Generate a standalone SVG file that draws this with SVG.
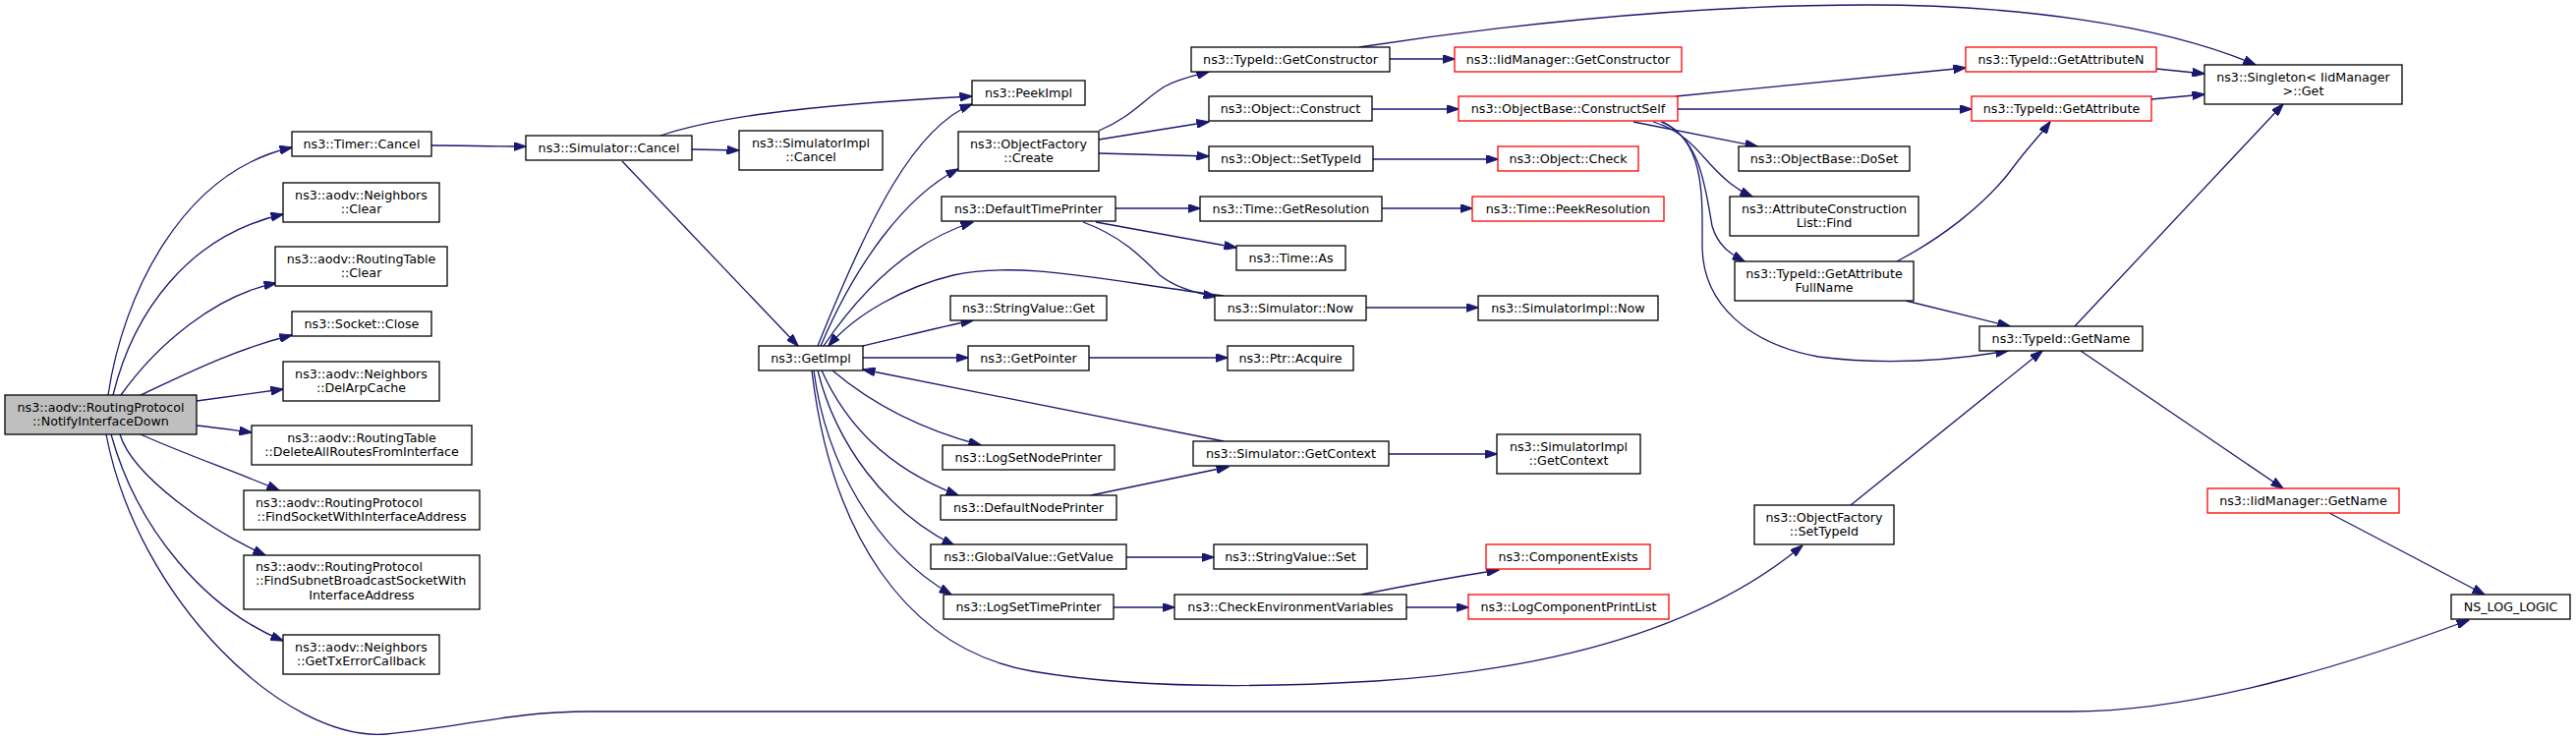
<svg xmlns="http://www.w3.org/2000/svg" width="2621" height="753" viewBox="0 0 2621 753">
<style>
.n rect{fill:#fff;stroke:#000;stroke-width:1.3}
.n.red rect{stroke:#ff0000}
.n.root rect{fill:#bfbfbf}
text{font-family:"DejaVu Sans","Liberation Sans",sans-serif;font-size:12.7px;fill:#000;text-anchor:middle}
text.l{text-anchor:start}
.e path{fill:none;stroke:#191970;stroke-width:1.3;marker-end:url(#arr)}
</style>
<defs>
<marker id="arr" viewBox="0 0 13 9" refX="12.5" refY="4.5" markerWidth="13" markerHeight="9" markerUnits="userSpaceOnUse" orient="auto">
<path d="M0,0 L13,4.5 L0,9 z" fill="#191970" stroke="#191970" stroke-width="1"/>
</marker>
</defs>
<rect width="2621" height="753" fill="#fff"/>
<g id="edges" class="e">
<path d="M110,402 C125,300 185,175 297,150"/>
<path d="M115,402 C135,320 190,240 288,218"/>
<path d="M123,402 C160,350 220,300 281,288"/>
<path d="M143,402 C190,380 240,355 297,341"/>
<path d="M200,408 C230,404 260,400 288,396"/>
<path d="M200,433 C220,435 240,438 256,440"/>
<path d="M143,442 C190,463 240,480 284,499"/>
<path d="M122,442 C135,485 215,540 270,565"/>
<path d="M113,442 C140,540 210,620 288,652"/>
<path d="M108,442 C140,610 290,755 393,747 C470,740 520,724 600,724 L2107,724 C2250,724 2420,665 2512,631"/>
<path d="M439,148 C470,148 500,149 535,149"/>
<path d="M704,152 L752,153"/>
<path d="M672,138 C720,122 800,108 989,98"/>
<path d="M633,164 L812,352"/>
<path d="M832,352 C885,220 930,130 989,106"/>
<path d="M835,352 C870,270 920,200 975,172"/>
<path d="M838,352 C880,290 930,245 990,226"/>
<path d="M1245,301 C1120,285 1040,265 970,280 C920,292 870,320 843,352"/>
<path d="M878,352 C910,345 950,334 990,326"/>
<path d="M878,364 L985,364"/>
<path d="M1245,449 L878,376"/>
<path d="M847,377 C880,405 930,435 998,453"/>
<path d="M836,377 C860,430 900,475 975,504"/>
<path d="M832,377 C850,450 900,520 971,555"/>
<path d="M828,377 C840,470 890,560 968,605"/>
<path d="M826,377 C845,540 920,660 1050,683 C1150,700 1280,700 1400,693 C1550,683 1720,650 1834,555"/>
<path d="M1118,133 C1150,120 1165,100 1185,88 C1200,80 1215,77 1230,73"/>
<path d="M1118,142 L1230,124"/>
<path d="M1118,156 L1230,159"/>
<path d="M1135,212 L1221,212"/>
<path d="M1115,226 L1258,252"/>
<path d="M1102,226 C1140,240 1160,260 1180,280 C1195,292 1215,298 1237,302"/>
<path d="M1406,212 L1498,212"/>
<path d="M1390,313 L1504,313"/>
<path d="M1108,364 L1249,364"/>
<path d="M1110,504 L1250,475"/>
<path d="M1413,462 L1523,462"/>
<path d="M1146,567 L1235,567"/>
<path d="M1133,618 L1195,618"/>
<path d="M1385,605 C1430,596 1480,587 1525,580"/>
<path d="M1431,618 L1494,618"/>
<path d="M1414,60 L1480,60"/>
<path d="M1383,48 C1500,30 1700,5 1900,5 C2050,5 2200,25 2295,66"/>
<path d="M1396,111 L1484,111"/>
<path d="M1397,162 L1524,162"/>
<path d="M1705,98 L2000,69"/>
<path d="M1707,111 L2006,111"/>
<path d="M1662,124 L1788,149"/>
<path d="M1682,124 C1710,132 1725,150 1740,167 C1755,183 1765,192 1783,200"/>
<path d="M1690,124 C1730,140 1735,190 1742,230 C1748,250 1760,258 1775,266"/>
<path d="M1692,124 C1735,145 1732,200 1732,250 C1732,310 1780,350 1850,363 C1920,372 1990,366 2043,357"/>
<path d="M1939,306 L2045,332"/>
<path d="M1930,266 C1970,245 2020,210 2050,168 C2065,148 2078,135 2086,124"/>
<path d="M2194,70 L2243,75"/>
<path d="M2189,101 L2243,96"/>
<path d="M2111,332 L2323,106"/>
<path d="M2117,357 L2323,497"/>
<path d="M2370,522 L2528,605"/>
<path d="M1883,514 L2078,357"/>
</g>
<g id="n0" class="n root"><rect x="5" y="402" width="195" height="40"/><text x="102.5" y="418.5">ns3::aodv::RoutingProtocol</text><text x="102.5" y="432.8">::NotifyInterfaceDown</text></g>
<g id="n1" class="n"><rect x="297" y="134" width="142" height="25"/><text x="368" y="150.5">ns3::Timer::Cancel</text></g>
<g id="n2" class="n"><rect x="288" y="186" width="159" height="40"/><text x="367.5" y="202.5">ns3::aodv::Neighbors</text><text x="367.5" y="216.8">::Clear</text></g>
<g id="n3" class="n"><rect x="280" y="251" width="175" height="40"/><text x="367.5" y="267.5">ns3::aodv::RoutingTable</text><text x="367.5" y="281.8">::Clear</text></g>
<g id="n4" class="n"><rect x="297" y="317" width="142" height="25"/><text x="368" y="333.5">ns3::Socket::Close</text></g>
<g id="n5" class="n"><rect x="288" y="368" width="159" height="40"/><text x="367.5" y="384.5">ns3::aodv::Neighbors</text><text x="367.5" y="398.8">::DelArpCache</text></g>
<g id="n6" class="n"><rect x="256" y="433" width="224" height="40"/><text x="368" y="449.5">ns3::aodv::RoutingTable</text><text x="368" y="463.8">::DeleteAllRoutesFromInterface</text></g>
<g id="n7" class="n"><rect x="248" y="499" width="240" height="40"/><text class="l" x="260" y="515.5">ns3::aodv::RoutingProtocol</text><text x="368" y="529.8">::FindSocketWithInterfaceAddress</text></g>
<g id="n8" class="n"><rect x="248" y="565" width="240" height="55"/><text class="l" x="260" y="581">ns3::aodv::RoutingProtocol</text><text class="l" x="260" y="595.3">::FindSubnetBroadcastSocketWith</text><text x="368" y="609.6">InterfaceAddress</text></g>
<g id="n9" class="n"><rect x="288" y="646" width="159" height="40"/><text x="367.5" y="662.5">ns3::aodv::Neighbors</text><text x="367.5" y="676.8">::GetTxErrorCallback</text></g>
<g id="n10" class="n"><rect x="2494" y="605" width="121" height="25"/><text x="2554.5" y="621.5">NS_LOG_LOGIC</text></g>
<g id="n11" class="n"><rect x="535" y="138" width="169" height="25"/><text x="619.5" y="154.5">ns3::Simulator::Cancel</text></g>
<g id="n12" class="n"><rect x="752" y="133" width="146" height="40"/><text x="825" y="149.5">ns3::SimulatorImpl</text><text x="825" y="163.8">::Cancel</text></g>
<g id="n13" class="n"><rect x="772" y="352" width="106" height="25"/><text x="825" y="368.5">ns3::GetImpl</text></g>
<g id="n14" class="n"><rect x="989" y="82" width="115" height="25"/><text x="1046.5" y="98.5">ns3::PeekImpl</text></g>
<g id="n15" class="n"><rect x="975" y="134" width="143" height="40"/><text x="1046.5" y="150.5">ns3::ObjectFactory</text><text x="1046.5" y="164.8">::Create</text></g>
<g id="n16" class="n"><rect x="958" y="200" width="177" height="25"/><text x="1046.5" y="216.5">ns3::DefaultTimePrinter</text></g>
<g id="n17" class="n"><rect x="967" y="301" width="159" height="25"/><text x="1046.5" y="317.5">ns3::StringValue::Get</text></g>
<g id="n18" class="n"><rect x="985" y="352" width="123" height="25"/><text x="1046.5" y="368.5">ns3::GetPointer</text></g>
<g id="n19" class="n"><rect x="959" y="453" width="175" height="25"/><text x="1046.5" y="469.5">ns3::LogSetNodePrinter</text></g>
<g id="n20" class="n"><rect x="957" y="504" width="179" height="25"/><text x="1046.5" y="520.5">ns3::DefaultNodePrinter</text></g>
<g id="n21" class="n"><rect x="947" y="554" width="199" height="25"/><text x="1046.5" y="570.5">ns3::GlobalValue::GetValue</text></g>
<g id="n22" class="n"><rect x="960" y="605" width="173" height="25"/><text x="1046.5" y="621.5">ns3::LogSetTimePrinter</text></g>
<g id="n23" class="n"><rect x="1212" y="48" width="202" height="25"/><text x="1313" y="64.5">ns3::TypeId::GetConstructor</text></g>
<g id="n24" class="n"><rect x="1230" y="98" width="166" height="25"/><text x="1313" y="114.5">ns3::Object::Construct</text></g>
<g id="n25" class="n"><rect x="1230" y="149" width="167" height="25"/><text x="1313.5" y="165.5">ns3::Object::SetTypeId</text></g>
<g id="n26" class="n"><rect x="1221" y="200" width="185" height="25"/><text x="1313.5" y="216.5">ns3::Time::GetResolution</text></g>
<g id="n27" class="n"><rect x="1258" y="250" width="111" height="25"/><text x="1313.5" y="266.5">ns3::Time::As</text></g>
<g id="n28" class="n"><rect x="1236" y="301" width="154" height="25"/><text x="1313" y="317.5">ns3::Simulator::Now</text></g>
<g id="n29" class="n"><rect x="1249" y="352" width="128" height="25"/><text x="1313" y="368.5">ns3::Ptr::Acquire</text></g>
<g id="n30" class="n"><rect x="1214" y="449" width="199" height="25"/><text x="1313.5" y="465.5">ns3::Simulator::GetContext</text></g>
<g id="n31" class="n"><rect x="1235" y="554" width="156" height="25"/><text x="1313" y="570.5">ns3::StringValue::Set</text></g>
<g id="n32" class="n"><rect x="1195" y="605" width="236" height="25"/><text x="1313" y="621.5">ns3::CheckEnvironmentVariables</text></g>
<g id="n33" class="n red"><rect x="1480" y="48" width="231" height="25"/><text x="1595.5" y="64.5">ns3::IidManager::GetConstructor</text></g>
<g id="n34" class="n red"><rect x="1484" y="98" width="223" height="25"/><text x="1595.5" y="114.5">ns3::ObjectBase::ConstructSelf</text></g>
<g id="n35" class="n red"><rect x="1524" y="149" width="143" height="25"/><text x="1595.5" y="165.5">ns3::Object::Check</text></g>
<g id="n36" class="n red"><rect x="1498" y="200" width="195" height="25"/><text x="1595.5" y="216.5">ns3::Time::PeekResolution</text></g>
<g id="n37" class="n"><rect x="1504" y="301" width="183" height="25"/><text x="1595.5" y="317.5">ns3::SimulatorImpl::Now</text></g>
<g id="n38" class="n"><rect x="1523" y="442" width="146" height="40"/><text x="1596" y="458.5">ns3::SimulatorImpl</text><text x="1596" y="472.8">::GetContext</text></g>
<g id="n39" class="n red"><rect x="1512" y="554" width="167" height="25"/><text x="1595.5" y="570.5">ns3::ComponentExists</text></g>
<g id="n40" class="n red"><rect x="1494" y="605" width="204" height="25"/><text x="1596" y="621.5">ns3::LogComponentPrintList</text></g>
<g id="n41" class="n"><rect x="1769" y="149" width="174" height="25"/><text x="1856" y="165.5">ns3::ObjectBase::DoSet</text></g>
<g id="n42" class="n"><rect x="1760" y="200" width="192" height="40"/><text x="1856" y="216.5">ns3::AttributeConstruction</text><text x="1856" y="230.8">List::Find</text></g>
<g id="n43" class="n"><rect x="1765" y="266" width="182" height="40"/><text x="1856" y="282.5">ns3::TypeId::GetAttribute</text><text x="1856" y="296.8">FullName</text></g>
<g id="n44" class="n"><rect x="1785" y="514" width="142" height="40"/><text x="1856" y="530.5">ns3::ObjectFactory</text><text x="1856" y="544.8">::SetTypeId</text></g>
<g id="n45" class="n red"><rect x="2000" y="48" width="194" height="25"/><text x="2097" y="64.5">ns3::TypeId::GetAttributeN</text></g>
<g id="n46" class="n red"><rect x="2006" y="98" width="183" height="25"/><text x="2097.5" y="114.5">ns3::TypeId::GetAttribute</text></g>
<g id="n47" class="n"><rect x="2243" y="66" width="201" height="40"/><text x="2343.5" y="82.5">ns3::Singleton&lt; IidManager</text><text x="2343.5" y="96.8">&gt;::Get</text></g>
<g id="n48" class="n"><rect x="2014" y="332" width="166" height="25"/><text x="2097" y="348.5">ns3::TypeId::GetName</text></g>
<g id="n49" class="n red"><rect x="2246" y="497" width="195" height="25"/><text x="2343.5" y="513.5">ns3::IidManager::GetName</text></g>
</svg>
